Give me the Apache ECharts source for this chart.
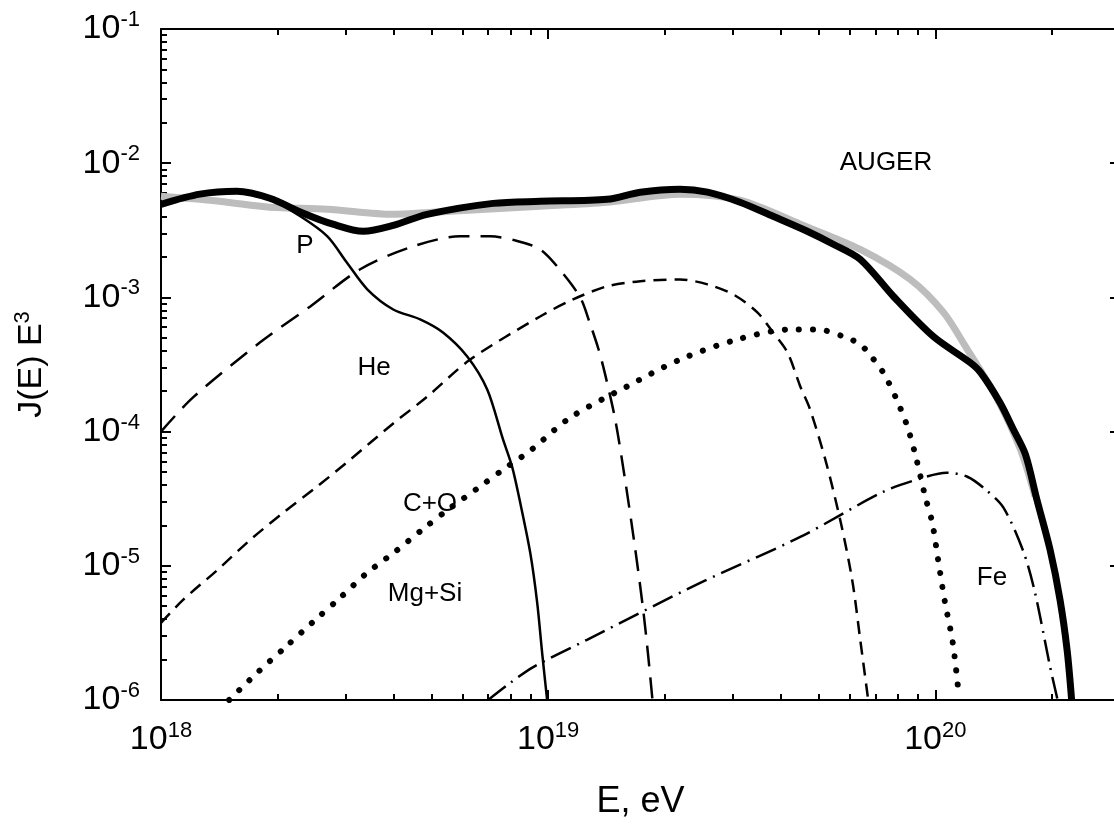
<!DOCTYPE html>
<html><head><meta charset="utf-8">
<script src="https://cdn.jsdelivr.net/npm/echarts@6/dist/echarts.min.js"></script>
<style>html,body{margin:0;padding:0;background:#fff;overflow:hidden}#c{width:1114px;height:826px}</style>
</head><body><div id="c"></div>
<script>
// ---- data (E in eV, J(E)E^3 in arbitrary units) ----
const totalE = [1.00e18,1.26e18,1.57e18,1.91e18,2.33e18,2.78e18,3.33e18,3.98e18,4.87e18,7.21e18,9.53e18,1.42e19,1.73e19,2.19e19,2.58e19,3.13e19,3.81e19,4.67e19,5.45e19,6.40e19,7.79e19,9.88e19,1.23e20,1.31e20,1.47e20,1.59e20,1.71e20,1.83e20,1.98e20,2.10e20,2.19e20,2.25e20];
const totalJ = [4.94e-3,5.88e-3,6.18e-3,5.48e-3,4.24e-3,3.51e-3,3.11e-3,3.44e-3,4.16e-3,5.02e-3,5.20e-3,5.38e-3,6.08e-3,6.40e-3,6.08e-3,5.12e-3,4.02e-3,3.11e-3,2.49e-3,1.92e-3,1.02e-3,5.12e-4,3.27e-4,2.75e-4,1.64e-4,1.04e-4,6.73e-5,3.11e-5,1.31e-5,5.57e-6,2.36e-6,1.0e-6];

const augerE = [1.00e18,1.26e18,1.48e18,1.91e18,2.69e18,3.98e18,5.58e18,9.53e18,1.42e19,2.19e19,3.13e19,4.48e19,6.40e19,8.62e19,1.05e20,1.21e20,1.29e20,1.45e20,1.66e20,1.81e20];
const augerJ = [5.68e-3,5.38e-3,5.12e-3,4.70e-3,4.54e-3,4.16e-3,4.39e-3,4.78e-3,5.12e-3,5.88e-3,5.30e-3,3.51e-3,2.28e-3,1.36e-3,7.73e-4,4.09e-4,3.05e-4,1.73e-4,7.35e-5,3.3e-5];

const pE = [1.00e18,1.26e18,1.57e18,1.91e18,2.29e18,2.69e18,3.02e18,3.41e18,3.98e18,4.67e18,5.35e18,6.18e18,6.96e18,7.65e18,8.07e18,8.47e18,8.99e18,9.37e18,9.65e18,9.94e18];
const pJ = [4.86e-3,5.77e-3,6.08e-3,5.38e-3,4.02e-3,2.85e-3,1.82e-3,1.15e-3,8.13e-4,6.86e-4,5.48e-4,3.63e-4,2.06e-4,8.71e-5,5.48e-5,2.95e-5,1.25e-5,5.30e-6,2.24e-6,1.0e-6];

const heE = [1.00e18,1.21e18,1.80e18,2.43e18,3.27e18,4.40e18,5.92e18,7.08e18,8.22e18,9.53e18,1.07e19,1.21e19,1.28e19,1.35e19,1.40e19,1.49e19,1.58e19,1.68e19,1.76e19,1.81e19,1.86e19];
const heJ = [1.00e-4,1.80e-4,4.61e-4,8.57e-4,1.62e-3,2.36e-3,2.85e-3,2.85e-3,2.66e-3,2.28e-3,1.62e-3,1.00e-3,6.50e-4,4.09e-4,2.75e-4,1.23e-4,4.39e-5,1.31e-5,4.70e-6,2.24e-6,1.0e-6];

const coE = [1.00e18,1.14e18,1.40e18,1.70e18,2.07e18,2.53e18,3.08e18,3.98e18,4.87e18,6.29e18,9.53e18,1.16e19,1.42e19,1.73e19,2.19e19,2.58e19,3.01e19,3.47e19,3.81e19,4.15e19,4.48e19,4.75e19,5.20e19,5.68e19,6.10e19,6.40e19,6.71e19];
const coJ = [3.76e-6,5.57e-6,9.33e-6,1.56e-5,2.49e-5,3.89e-5,6.18e-5,1.15e-4,1.82e-4,3.44e-4,7.21e-4,9.66e-4,1.21e-3,1.32e-3,1.36e-3,1.25e-3,1.05e-3,7.73e-4,5.48e-4,3.89e-4,2.17e-4,1.46e-4,6.18e-5,2.20e-5,7.86e-6,2.81e-6,1.0e-6];

const mgE = [1.50e18,1.77e18,2.10e18,2.47e18,2.90e18,3.41e18,4.02e18,4.73e18,5.55e18,6.55e18,7.65e18,8.99e18,1.14e19,1.60e19,2.19e19,3.08e19,4.22e19,4.96e19,5.78e19,6.40e19,6.87e19,7.34e19,7.93e19,8.47e19,8.88e19,9.42e19,9.82e19,1.02e20,1.06e20,1.11e20,1.15e20];
const mgJ = [1.0e-6,1.59e-6,2.49e-6,3.82e-6,5.77e-6,8.87e-6,1.27e-5,1.86e-5,2.66e-5,3.75e-5,5.21e-5,7.21e-5,1.27e-4,2.17e-4,3.44e-4,4.86e-4,5.77e-4,5.77e-4,5.12e-4,4.46e-4,3.56e-4,2.75e-4,1.76e-4,1.09e-4,6.73e-5,3.27e-5,2.10e-5,1.05e-5,5.30e-6,2.66e-6,1.09e-6];

const feE = [7.00e18,7.98e18,9.15e18,1.26e19,2.47e19,4.48e19,7.34e19,9.31e19,1.07e20,1.21e20,1.35e20,1.50e20,1.69e20,1.81e20,1.98e20,2.07e20];
const feJ = [1.0e-6,1.34e-6,1.76e-6,2.81e-6,7.46e-6,1.64e-5,3.56e-5,4.54e-5,4.94e-5,4.61e-5,3.69e-5,2.71e-5,1.27e-5,6.29e-6,1.76e-6,1.0e-6];

// axis ticks
const xMajor = [1e18, 1e19, 1e20];
const xMinor = [2e18,3e18,4e18,5e18,6e18,7e18,8e18,9e18,2e19,3e19,4e19,5e19,6e19,7e19,8e19,9e19,2e20];
const yMajor = [1e-6,1e-5,1e-4,1e-3,1e-2,1e-1];
const yMinor = [];
for (const d of [1e-6,1e-5,1e-4,1e-3,1e-2]) for (let k = 2; k <= 9; k++) yMinor.push(+(k*d).toPrecision(3));

const labels = [
  {text:'AUGER', x:886, y:163},
  {text:'P', x:305, y:246},
  {text:'He', x:374, y:368},
  {text:'C+O', x:430, y:504},
  {text:'Mg+Si', x:425, y:594},
  {text:'Fe', x:992, y:578}
];

const FONT = '"Liberation Sans", Arial, sans-serif';
const zip = (a, b) => a.map((v, i) => [v, b[i]]);
const supFmt = v => '{b|10}{s|' + Math.round(Math.log10(v)) + '}';
const rich = {
  b: {fontSize: 34, fontFamily: FONT, color: '#000', lineHeight: 40},
  s: {fontSize: 22, fontFamily: FONT, color: '#000', lineHeight: 26, verticalAlign: 'top'}
};
const axLine = {show: true, lineStyle: {color: '#000', width: 2}};

function xAx(pos, major, withLabels) {
  return {
    type: 'log', logBase: 10, min: 1e18, max: 3e20, position: pos, gridIndex: 0,
    splitLine: {show: false},
    axisLine: major ? axLine : {show: false},
    axisTick: {show: true, inside: true, length: major ? 10 : 6,
      customValues: major ? xMajor : xMinor, lineStyle: {color: '#000', width: 2}},
    axisLabel: withLabels ? {show: true, customValues: xMajor, formatter: supFmt, rich: rich, margin: 20} : {show: false},
    name: withLabels ? 'E, eV' : '',
    nameLocation: 'middle', nameGap: 84,
    nameTextStyle: {fontSize: 36, fontFamily: FONT, color: '#000'}
  };
}
function yAx(pos, major, withLabels) {
  return {
    type: 'log', logBase: 10, min: 1e-6, max: 1e-1, position: pos, gridIndex: 0,
    splitLine: {show: false},
    axisLine: major ? axLine : {show: false},
    axisTick: {show: true, inside: true, length: major ? 10 : 6,
      customValues: major ? yMajor : yMinor, lineStyle: {color: '#000', width: 2}},
    axisLabel: withLabels ? {show: true, customValues: yMajor, formatter: supFmt, rich: rich, margin: 21} : {show: false},
    name: withLabels ? '{a|J(E) E}{s|3}' : '',
    nameLocation: 'middle', nameGap: 109, nameRotate: 90,
    nameTextStyle: {rich: {
      a: {fontSize: 34, fontFamily: FONT, color: '#000', lineHeight: 40},
      s: {fontSize: 22, fontFamily: FONT, color: '#000', lineHeight: 26, verticalAlign: 'top'}
    }}
  };
}

function line(name, E, J, style, z) {
  return {name, type: 'line', data: zip(E, J), showSymbol: false, smooth: 0.3,
    xAxisIndex: 0, yAxisIndex: 0, lineStyle: style, z: z || 2, silent: true, clip: true};
}

const chart = echarts.init(document.getElementById('c'), null, {renderer: 'canvas'});
chart.setOption({
  animation: false,
  backgroundColor: '#fff',
  grid: {left: 161, top: 29, width: 959, height: 671, containLabel: false, outerBoundsMode: 'none'},
  xAxis: [xAx('bottom', true, true), xAx('bottom', false, false), xAx('top', true, false), xAx('top', false, false)],
  yAxis: [yAx('left', true, true), yAx('left', false, false), yAx('right', true, false), yAx('right', false, false)],
  series: [
    line('AUGER', augerE, augerJ, {color: '#bdbdbd', width: 7}, 1),
    line('P', pE, pJ, {color: '#000', width: 2.5}),
    line('He', heE, heJ, {color: '#000', width: 2.5, type: [21, 11]}),
    line('C+O', coE, coJ, {color: '#000', width: 2.5, type: [13, 8]}),
    line('Mg+Si', mgE, mgJ, {color: '#000', width: 6, type: [0.1, 14], cap: 'round'}),
    line('Fe', feE, feJ, {color: '#000', width: 2.5, type: [22, 7, 2, 7]}),
    line('Total', totalE, totalJ, {color: '#000', width: 7}, 3)
  ],
  graphic: labels.map(l => ({
    type: 'text', x: l.x, y: l.y, z: 10,
    style: {text: l.text, fontSize: 26, fontFamily: FONT, fill: '#000', align: 'center', verticalAlign: 'middle'}
  }))
});
</script>
</body></html>
